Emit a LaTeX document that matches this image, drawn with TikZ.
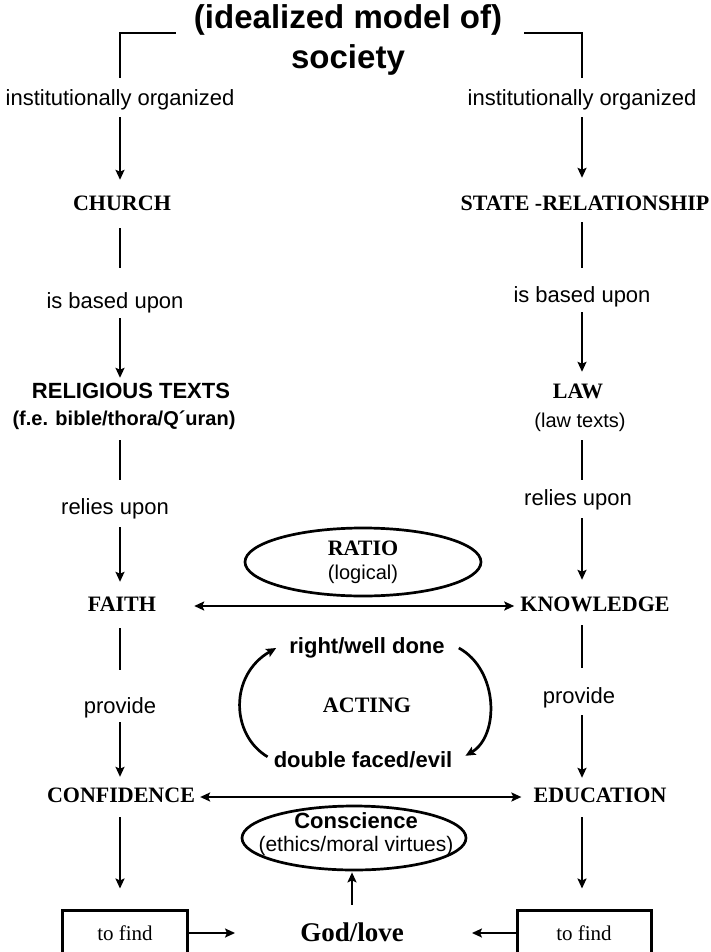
\documentclass[tikz,border=0pt]{standalone}
\usepackage{fontspec}
\setmainfont{Liberation Serif}
\setsansfont{Liberation Sans}
\usetikzlibrary{arrows.meta,shapes.geometric,calc}
\begin{document}
\begin{tikzpicture}[x=1pt,y=-1pt,
  lbl/.style={font=\sffamily\fontsize{22}{26}\selectfont, inner sep=0pt, text height=15pt, text depth=5pt},
  slbl/.style={font=\sffamily\fontsize{20}{24}\selectfont, inner sep=0pt, text height=15pt, text depth=5pt},
  blbl/.style={font=\sffamily\bfseries\fontsize{22}{26}\selectfont, inner sep=0pt, text height=15pt, text depth=5pt},
  key/.style={font=\bfseries\fontsize{22}{26}\selectfont, inner sep=0pt, text height=15pt, text depth=5pt},
  ln/.style={line width=2.7pt},
  arr/.style={line width=2.7pt, -{Stealth[length=10pt,width=9pt,inset=2pt]}},
  darr/.style={line width=2.7pt, {Stealth[length=10pt,width=9pt,inset=2pt]}-{Stealth[length=10pt,width=9pt,inset=2pt]}},
  oval/.style={draw, ellipse, line width=2.7pt, inner sep=0pt, align=center},
  findbox/.style={draw, rectangle, line width=3pt, minimum height=46pt, font=\fontsize{21}{25}\selectfont}
]
\useasboundingbox (0,0) rectangle (710,952);
\fill[white] (0,0) rectangle (710,952);

\coordinate (L) at (120,0);
\coordinate (R) at (582,0);

% title
\node[font=\sffamily\bfseries\fontsize{33}{40}\selectfont, align=center, inner sep=0pt] (title) at (348,40) {(idealized model of)\\society};

% left column
\node[lbl] (instL) at (120,101) {institutionally organized};
\node[key] (church) at (122,205) {CHURCH};
\node[lbl] (basedL) at (115,303) {is based upon};
\node[blbl] (relig) at (131,393) {RELIGIOUS TEXTS};
\node[font=\sffamily\bfseries\fontsize{20}{24}\selectfont, inner sep=0pt, text height=15pt, text depth=5pt] (relig2) at (124,420) {(f.e. bible/thora/Q´uran)};
\node[lbl] (reliesL) at (115,509) {relies upon};
\node[key] (faith) at (122,606) {FAITH};
\node[lbl] (provL) at (120,708) {provide};
\node[key] (conf) at (121,797) {CONFIDENCE};
\node[findbox, minimum width=125pt] (findL) at (125,933) {to find};

% right column
\node[lbl] (instR) at (582,101) {institutionally organized};
\node[key] (state) at (585,205) {STATE -RELATIONSHIP};
\node[lbl] (basedR) at (582,297) {is based upon};
\node[key] (law) at (578,393) {LAW};
\node[slbl] (lawtexts) at (580,422) {(law texts)};
\node[lbl] (reliesR) at (578,500) {relies upon};
\node[key] (know) at (595,606) {KNOWLEDGE};
\node[lbl] (provR) at (579,698) {provide};
\node[key] (edu) at (600,797) {EDUCATION};
\node[findbox, minimum width=134pt] (findR) at (584,933) {to find};

% middle
\node[oval, minimum width=236pt, minimum height=68pt] (ratio) at (363,562) {};
\node[key] (ratiot) at (363,550) {RATIO};
\node[slbl] (logical) at (363,574) {(logical)};
\node[blbl] (right) at (367,648) {right/well done};
\node[key] (acting) at (367,707) {ACTING};
\node[blbl] (evil) at (363,762) {double faced/evil};
\node[oval, minimum width=224pt, minimum height=64pt] (consc) at (354,838) {};
\node[blbl] (consct) at (356,823) {Conscience};
\node[font=\sffamily\fontsize{21}{25}\selectfont, inner sep=0pt, text height=15pt, text depth=5pt] (ethics) at (356,846) {(ethics/moral virtues)};
\node[font=\bfseries\fontsize{27}{31}\selectfont, inner sep=0pt, text height=18pt, text depth=6pt] (god) at (352,935) {God/love};

% bracket
\draw[ln, shorten <=13pt, shorten >=18pt] (instL.north -| L) |- ([yshift=7pt]title.west);
\draw[ln, shorten <=13pt, shorten >=22pt] (instR.north -| R) |- ([yshift=7pt]title.east);

% left connectors
\draw[arr, shorten <=6pt, shorten >=15pt] (instL.south -| L) -- (church.north -| L);
\draw[ln, shorten <=13pt, shorten >=25pt] (church.south -| L) -- (basedL.north -| L);
\draw[arr, shorten <=5pt, shorten >=5pt] (basedL.south -| L) -- (relig.north -| L);
\draw[ln, shorten <=10pt, shorten >=19pt] (relig2.south -| L) -- (reliesL.north -| L);
\draw[arr, shorten <=8pt, shorten >=14pt] (reliesL.south -| L) -- (faith.north -| L);
\draw[ln, shorten <=12pt, shorten >=28pt] (faith.south -| L) -- (provL.north -| L);
\draw[arr, shorten <=4pt, shorten >=10pt] (provL.south -| L) -- (conf.north -| L);
\draw[arr, shorten <=10pt, shorten >=0pt] (conf.south -| L) -- ([yshift=20pt]findL.north -| L);

% right connectors
\draw[arr, shorten <=6pt, shorten >=17pt] (instR.south -| R) -- (state.north -| R);
\draw[ln, shorten <=7pt, shorten >=19pt] (state.south -| R) -- (basedR.north -| R);
\draw[arr, shorten <=5pt, shorten >=11pt] (basedR.south -| R) -- (law.north -| R);
\draw[ln, shorten <=8pt, shorten >=10pt] (lawtexts.south -| R) -- (reliesR.north -| R);
\draw[arr, shorten <=8pt, shorten >=16pt] (reliesR.south -| R) -- (know.north -| R);
\draw[ln, shorten <=9pt, shorten >=20pt] (know.south -| R) -- (provR.north -| R);
\draw[arr, shorten <=7pt, shorten >=9pt] (provR.south -| R) -- (edu.north -| R);
\draw[arr, shorten <=10pt, shorten >=0pt] (edu.south -| R) -- ([yshift=20pt]findR.north -| R);

% horizontal double arrows
\draw[darr, shorten <=38pt, shorten >=6pt] (faith.east) -- (faith.east -| know.west);
\draw[darr, shorten <=5pt, shorten >=12pt] (conf.east) -- (conf.east -| edu.west);

% acting cycle
\draw[arr] ([xshift=-6pt,yshift=-5pt]evil.north west) .. controls +(-37,-22) and +(-47,27) .. ([xshift=-13pt]right.west);
\draw[arr] ([xshift=14pt]right.east) .. controls +(40,22) and +(34,-20) .. ([xshift=13pt,yshift=-4pt]evil.north east);

% bottom
\draw[arr, shorten >=65pt] (findL.east) -- (findL.east -| god.west);
\draw[arr, shorten >=68pt] (findR.west) -- (findR.west -| god.east);
\draw[arr, shorten <=18pt, shorten >=1pt] (god.north) -- (god.north |- consc.south);
\end{tikzpicture}
\end{document}
